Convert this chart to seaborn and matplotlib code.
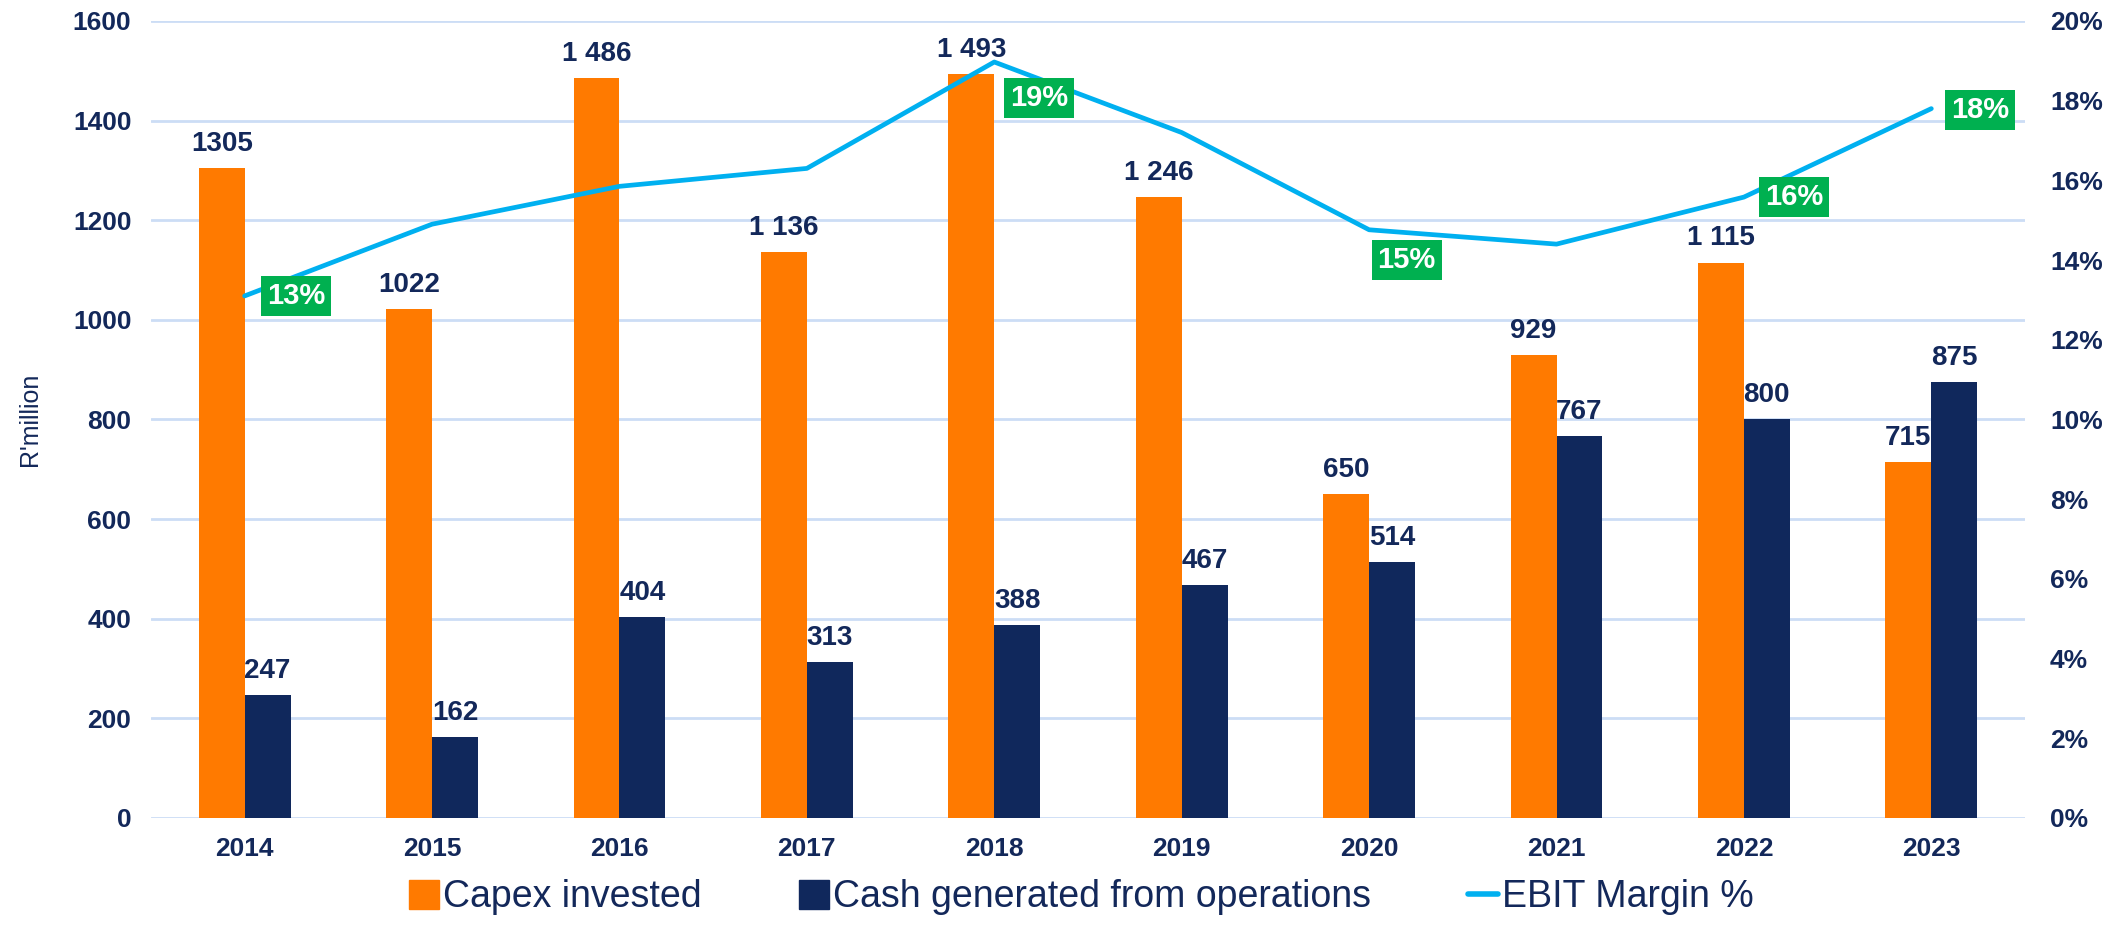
import pandas as pd
import matplotlib.pyplot as plt
import matplotlib.patches as mpatches
import matplotlib.lines as mlines
import numpy as np
import seaborn as sns

sns.set_theme(style="white")
plt.rcParams['font.family'] = ['Liberation Sans', 'DejaVu Sans']

years       = ['2014', '2015', '2016', '2017', '2018', '2019', '2020', '2021', '2022', '2023']
capex       = [1305, 1022, 1486, 1136, 1493, 1246, 650, 929, 1115, 715]
cash        = [247, 162, 404, 313, 388, 467, 514, 767, 800, 875]
capex_lbl   = ['1305', '1022', '1 486', '1 136', '1 493', '1 246', '650', '929', '1 115', '715']
cash_lbl    = ['247', '162', '404', '313', '388', '467', '514', '767', '800', '875']
ebit        = [13.1, 14.9, 15.85, 16.3, 18.97, 17.2, 14.76, 14.4, 15.58, 17.8]
ebit_lbl    = {0: '13%', 4: '19%', 6: '15%', 8: '16%', 9: '18%'}
series      = ['Capex invested', 'Cash generated from operations']

ORANGE = '#FF7A00'
NAVY   = '#10285C'
CYAN   = '#00B0F0'
GREEN  = '#00B050'
GRID   = '#CCDDF5'
TXT    = '#13285A'

df = pd.DataFrame({
    'year': years * 2,
    'value': capex + cash,
    'series': [series[0]] * len(years) + [series[1]] * len(years),
})

fig = plt.figure(figsize=(21.2, 9.27), dpi=100)
ax = fig.add_axes([0.0712, 0.1176, 0.8840, 0.8598])

sns.barplot(data=df, x='year', y='value', hue='series', palette=[ORANGE, NAVY],
            width=0.49, gap=0, saturation=1, linewidth=0, ax=ax, legend=False)

for cont, lbls in zip(ax.containers, [capex_lbl, cash_lbl]):
    ax.bar_label(cont, labels=lbls, padding=8, fontsize=20, fontweight='bold', color=TXT)

ax.set_ylim(0, 1600)
ax.set_yticks(np.arange(0, 1601, 200))
ax.set_xlim(-0.5, len(years) - 0.5)
ax.yaxis.grid(True, color=GRID, linewidth=2)
ax.set_axisbelow(True)
for s in ax.spines.values():
    s.set_visible(False)
ax.tick_params(axis='y', length=0, pad=14, labelsize=19, labelcolor=TXT)
ax.tick_params(axis='x', length=0, pad=14, labelsize=19, labelcolor=TXT)
for t in ax.get_yticklabels() + ax.get_xticklabels():
    t.set_fontweight('bold')
ax.set_xlabel('')
ax.set_ylabel("R'million", fontsize=18, color=TXT, labelpad=22)

ax2 = ax.twinx()
xpos = np.arange(len(years))
sns.lineplot(x=xpos, y=ebit, color=CYAN, linewidth=3.4, ax=ax2, legend=False)
ax2.set_ylim(0, 20)
ax2.set_yticks(np.arange(0, 21, 2))
ax2.set_yticklabels([f'{v}%' for v in range(0, 21, 2)])
for s in ax2.spines.values():
    s.set_visible(False)
ax2.tick_params(axis='y', length=0, pad=18, labelsize=19, labelcolor=TXT)
for t in ax2.get_yticklabels():
    t.set_fontweight('bold')

offsets = {0: (37, 0), 4: (32, -26), 6: (27, -22), 8: (36, 0), 9: (35, -1)}
for i, txt in ebit_lbl.items():
    ax2.annotate(txt, (xpos[i], ebit[i]), xytext=offsets[i], textcoords='offset points',
                 ha='center', va='center', fontsize=21, fontweight='bold', color='white',
                 bbox=dict(boxstyle='square,pad=0.2', fc=GREEN, ec='none'))

handles = [mpatches.Patch(color=ORANGE, label=series[0]),
           mpatches.Patch(color=NAVY, label=series[1]),
           mlines.Line2D([], [], color=CYAN, linewidth=4, label='EBIT Margin %')]
fig.legend(handles=handles, loc='center', bbox_to_anchor=(0.51, 0.032), ncol=3, frameon=False,
           prop={'size': 27}, labelcolor=TXT, handlelength=0.8, handleheight=0.8,
           handletextpad=0.1, columnspacing=2.6)

fig.savefig('out.png', dpi=100)
